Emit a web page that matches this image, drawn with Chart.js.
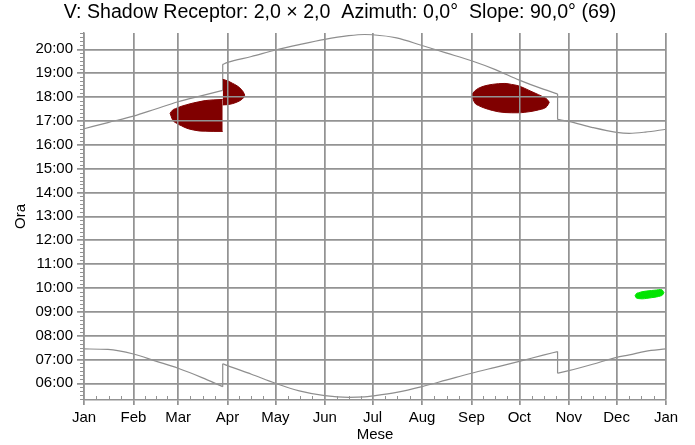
<!DOCTYPE html>
<html><head><meta charset="utf-8">
<script src="https://cdn.jsdelivr.net/npm/chart.js@4.4.1/dist/chart.umd.min.js"></script>
<style>html,body{margin:0;padding:0;background:#fff}canvas{display:block}</style>
</head><body>
<canvas id="c" width="695" height="445"></canvas>
<script>
const TITLE = 'V: Shadow Receptor: 2,0 \u00d7 2,0  Azimuth: 0,0\u00b0  Slope: 90,0\u00b0 (69)';
const X_TITLE = 'Mese';
const Y_TITLE = 'Ora';
const monthLabels = ['Jan','Feb','Mar','Apr','May','Jun','Jul','Aug','Sep','Oct','Nov','Dec','Jan'];
const monthStarts = [0,31,59,90,120,151,181,212,243,273,304,334,365];
const hourTicks = [6,7,8,9,10,11,12,13,14,15,16,17,18,19,20];
const yMin = 5.3, yMax = 20.683;

// sunrise / sunset (day of year, decimal hour); repeated day = clock change
const sunDays      = [0,15,31,45,59,74,87,87,90,105,120,135,151,166,176,181,196,212,227,243,258,273,288,297,297,304,319,334,342,352,365];
const sunriseHours = [7.44,7.42,7.23,6.93,6.63,6.24,5.86,6.82,6.74,6.38,6.00,5.68,5.48,5.41,5.43,5.47,5.62,5.86,6.13,6.42,6.67,6.92,7.18,7.33,6.42,6.53,6.80,7.09,7.19,7.34,7.44];
const sunsetHours  = [16.67,16.93,17.20,17.50,17.80,18.06,18.28,19.37,19.45,19.70,19.97,20.20,20.42,20.57,20.62,20.61,20.48,20.16,19.85,19.52,19.15,18.71,18.33,18.13,17.06,16.98,16.72,16.52,16.48,16.53,16.65];

// shadow periods: days, end (top), start (bottom)
const marDays   = [54,55.5,58,61,64.5,68.5,72,76,81,87];
const marEnd    = [17.32,17.45,17.53,17.61,17.68,17.75,17.80,17.85,17.88,17.90];
const marStart  = [17.32,17.05,16.90,16.80,16.69,16.62,16.58,16.57,16.56,16.56];

const aprDays   = [87,90,93,96,98.5,100,100.8];
const aprEnd    = [18.74,18.68,18.58,18.47,18.33,18.20,18.08];
const aprStart  = [17.67,17.68,17.72,17.79,17.88,17.97,18.08];

const sepDays   = [243,245,247.5,251.5,256,260,264,268,272.5,276.5,281,285,289,290.5,291.8];
const sepEnd    = [18.08,18.25,18.37,18.47,18.53,18.56,18.57,18.53,18.47,18.36,18.22,18.10,17.97,17.90,17.78];
const sepStart  = [18.08,17.76,17.64,17.53,17.44,17.38,17.35,17.34,17.34,17.36,17.40,17.46,17.54,17.62,17.78];

const decDays   = [345.6,346.4,348,350,353,356,359,361.5,362.8,363.7];
const decEnd    = [9.67,9.76,9.80,9.84,9.87,9.89,9.91,9.93,9.90,9.80];
const decStart  = [9.67,9.58,9.55,9.54,9.56,9.59,9.62,9.66,9.70,9.80];

const RED = '#800000', GREEN = '#00e400', LINE = '#8e8e8e', GRID = '#939393';
const FONT = "'Liberation Sans', Arial, sans-serif";

const pts = (xs, ys) => xs.map((x, i) => ({x, y: ys[i]}));
function blob(xs, top, bottom, color) {
  const base = {borderColor: color, backgroundColor: color, borderWidth: 1, pointRadius: 0, cubicInterpolationMode: 'monotone'};
  return [
    Object.assign({data: pts(xs, top), fill: false}, base),
    Object.assign({data: pts(xs, bottom), fill: '-1'}, base)
  ];
}
// split a sun curve into pieces at the clock changes, each drawn smooth, plus the jumps
function sunCurve(ys) {
  const out = [];
  let start = 0;
  for (let i = 1; i <= sunDays.length; i++) {
    if (i === sunDays.length || sunDays[i] === sunDays[i - 1]) {
      out.push({data: pts(sunDays.slice(start, i), ys.slice(start, i)), borderColor: LINE, borderWidth: 1.2, pointRadius: 0, fill: false, cubicInterpolationMode: 'monotone'});
      if (i < sunDays.length) {
        out.push({data: [{x: sunDays[i - 1], y: ys[i - 1]}, {x: sunDays[i], y: ys[i]}], borderColor: LINE, borderWidth: 1.2, pointRadius: 0, fill: false});
      }
      start = i;
    }
  }
  return out;
}

const overlay = {
  id: 'overlay',
  afterDatasetsDraw(chart) {
    const {ctx, chartArea} = chart;
    const xs = chart.scales.x, ys = chart.scales.y;
    xs.drawGrid(chartArea);
    ys.drawGrid(chartArea);
    ctx.save();
    ctx.strokeStyle = GRID;
    ctx.lineWidth = 1;
    ctx.beginPath();
    for (let m = Math.ceil(yMin * 6); m <= Math.floor(yMax * 6); m++) {
      if (m % 6 === 0) continue;
      const py = Math.round(ys.getPixelForValue(m / 6)) + 0.5;
      ctx.moveTo(chartArea.left - 4, py);
      ctx.lineTo(chartArea.left, py);
    }
    for (let i = 0; i < 12; i++) {
      const s = monthStarts[i], len = monthStarts[i + 1] - s;
      for (let k = 1; k < 4; k++) {
        const px = Math.round(xs.getPixelForValue(s + k * len / 4)) + 0.5;
        ctx.moveTo(px, chartArea.bottom);
        ctx.lineTo(px, chartArea.bottom - 4);
      }
    }
    ctx.stroke();
    ctx.restore();
  }
};

new Chart(document.getElementById('c'), {
  type: 'line',
  data: {
    datasets: [
      ...blob(marDays, marEnd, marStart, RED),
      ...blob(aprDays, aprEnd, aprStart, RED),
      ...blob(sepDays, sepEnd, sepStart, RED),
      ...blob(decDays, decEnd, decStart, GREEN),
      ...sunCurve(sunriseHours),
      ...sunCurve(sunsetHours)
    ]
  },
  options: {
    responsive: false,
    animation: false,
    layout: {padding: {left: 0, right: 15, top: 0, bottom: 0}},
    plugins: {
      legend: {display: false},
      tooltip: {enabled: false},
      title: {display: true, text: TITLE, color: '#000', font: {family: FONT, size: 19.6, weight: 'normal', lineHeight: 1.2}, padding: {top: 1, bottom: 8.5}}
    },
    scales: {
      x: {
        type: 'linear', min: 0, max: 365,
        afterBuildTicks: s => { s.ticks = monthStarts.map(v => ({value: v})); },
        afterFit: s => { s.height = 45; },
        ticks: {autoSkip: false, maxRotation: 0, padding: 4, color: '#000', font: {family: FONT, size: 15}, callback: (v, i) => monthLabels[i]},
        grid: {color: GRID, lineWidth: 1.5, tickLength: 5, tickColor: GRID},
        border: {display: true, color: GRID, width: 1.5},
        title: {display: true, text: X_TITLE, color: '#000', font: {family: FONT, size: 15}, padding: {top: 0, bottom: 1}}
      },
      y: {
        type: 'linear', min: yMin, max: yMax,
        afterBuildTicks: s => { s.ticks = hourTicks.map(v => ({value: v})); },
        afterFit: s => { s.width = 84; },
        ticks: {autoSkip: false, padding: 4, color: '#000', font: {family: FONT, size: 15}, callback: v => String(v).padStart(2, '0') + ':00'},
        grid: {color: GRID, lineWidth: 1.5, tickLength: 7, tickColor: GRID},
        border: {display: true, color: GRID, width: 1.5},
        title: {display: true, text: Y_TITLE, color: '#000', font: {family: FONT, size: 15}, padding: {top: 12, bottom: 0}}
      },
      yRight: {
        type: 'linear', position: 'right', min: yMin, max: yMax,
        afterFit: s => { s.width = 14; },
        ticks: {display: false},
        grid: {display: false},
        border: {display: false}
      }
    }
  },
  plugins: [overlay]
});
</script>
</body></html>
